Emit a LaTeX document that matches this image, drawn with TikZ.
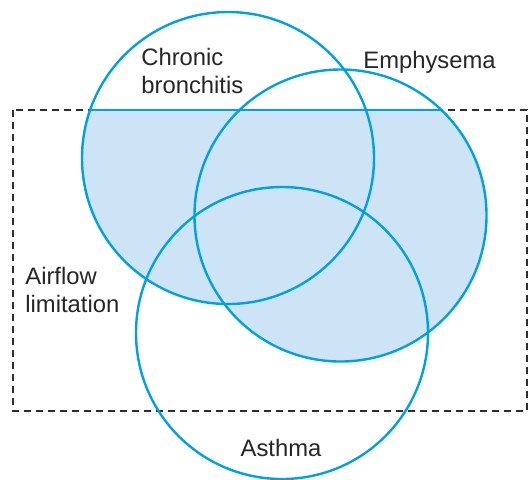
\documentclass[tikz,border=0pt]{standalone}
\usepackage{fontspec}
\setmainfont{Liberation Sans}
\definecolor{venblue}{RGB}{0,160,225}
\definecolor{venfill}{RGB}{204,228,245}
\definecolor{dashgray}{RGB}{45,45,45}
\begin{document}
\begin{tikzpicture}[x=0.5pt,y=-0.5pt,
  ring/.style={circle,draw=venblue,line width=1.2pt,minimum size=146pt,inner sep=0pt},
  frame/.style={draw=dashgray,line width=1.1pt,dash pattern=on 3.5pt off 2.5pt},
  lab/.style={font=\fontsize{11.9}{14}\selectfont,text=black!85,inner sep=0pt,align=left}]
\useasboundingbox (0,0) rectangle (528,479);
% dashed frame
\draw[frame] (13,110) rectangle (527,411);
% shaded union clipped to the frame
\begin{scope}
  \clip (13,110) rectangle (527,411);
  \fill[venfill] (228,158) circle[radius=146];
  \fill[venfill] (340.5,215.5) circle[radius=146];
\end{scope}
\coordinate (t1) at (89.8,110);
\coordinate (t2) at (442,110);
\draw[venblue,line width=1.2pt] (t1) -- (t2);
% circles
\node[ring] (cb) at (228,158) {};
\node[ring] (em) at (340.5,215.5) {};
\node[ring] (as) at (282,333) {};
% labels
\node[lab,anchor=base west] (lcb) at (141,93) {Chronic\\bronchitis};
\node[lab,anchor=base west] (lem) at (363,68) {Emphysema};
\node[lab,anchor=base] (las) at (281,456) {Asthma};
\node[lab,anchor=base west] (laf) at (25,312) {Airflow\\limitation};
\end{tikzpicture}
\end{document}
